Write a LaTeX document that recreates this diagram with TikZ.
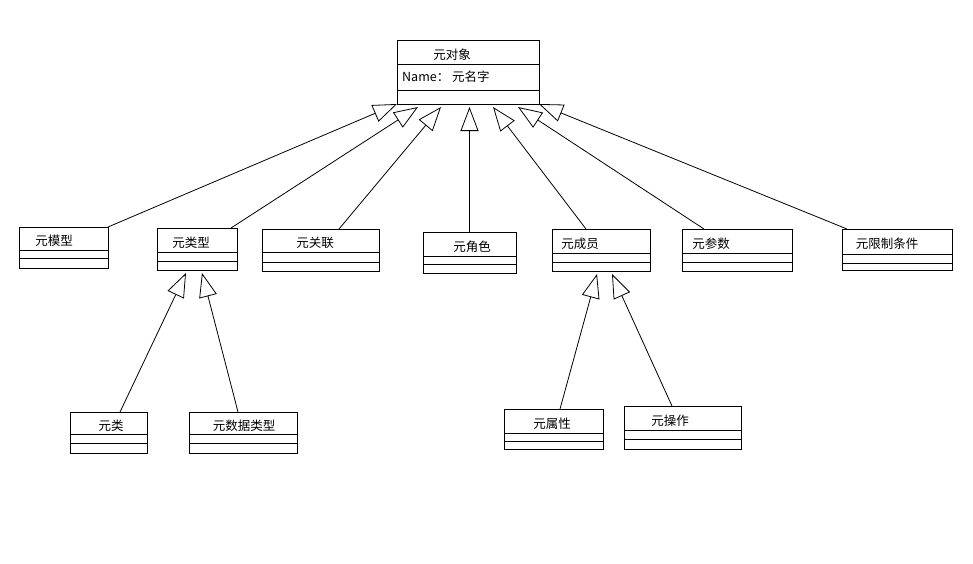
\documentclass[tikz,border=0pt]{standalone}
\usepackage{fontspec}
\newfontfamily\cjk{Noto Sans CJK SC}
\usetikzlibrary{arrows.meta}
\tikzset{
  classbox/.style={draw, line width=.8pt, inner sep=0pt, outer sep=0pt},
  classname/.style={font=\cjk\fontsize{12.5}{15}\selectfont, inner sep=0pt},
  inherit/.style={draw, line width=.8pt, -{Triangle[open, length=24pt, width=18pt]}}
}
\newcommand\metaclass[9]{%
  \node[classbox, minimum width={#4-#2}, minimum height={#5-#3}] (#1) at ({(#2+#4)/2},{(#3+#5)/2}) {};
  \draw[line width=.8pt] (#2,#6) -- (#4,#6) (#2,#7) -- (#4,#7);
  \node[classname] (#1-name) at (#8,{(#3+#6)/2+2.5}) {#9};
}
\begin{document}
\begin{tikzpicture}[x=1pt, y=-1pt]
                      \useasboundingbox (0,0) rectangle (973,563);
                      \metaclass{mobj}{397}{40}{539}{104}{64}{90}{452}{元对象}
                      \node[classname, anchor=west] (mobj-attr) at (402,77) {Name： 元名字};
                      \metaclass{mmodel}{19}{227}{108}{268}{250}{258}{54}{元模型}
                      \metaclass{mtype}{157}{228}{237}{270}{252}{261}{191}{元类型}
                      \metaclass{massoc}{262}{229}{379}{271}{252}{262}{315}{元关联}
                      \metaclass{mrole}{423}{232}{516}{273}{256}{264}{472}{元角色}
                      \metaclass{mmember}{552}{229}{650}{271}{253}{262}{580}{元成员}
                      \metaclass{mparam}{682}{229}{792}{271}{253}{262}{711}{元参数}
                      \metaclass{mconstr}{842}{229}{952}{270}{254}{263}{887}{元限制条件}
                      \metaclass{mclass}{70}{412}{147}{453}{434}{443}{111}{元类}
                      \metaclass{mdtype}{189}{412}{297}{453}{434}{443}{244}{元数据类型}
                      \metaclass{mattr}{504}{409}{603}{449}{433}{441}{552}{元属性}
                      \metaclass{mop}{624}{406}{741}{449}{430}{439}{670}{元操作}
                      \coordinate (rtip) at ([yshift=-3pt]mobj.south);
                      \draw[inherit] (mmodel.north east) -- (mobj.south west);
                      \draw[inherit] ([xshift=-6pt]mtype.north east) -- ([shift={(21pt,-3pt)}]mobj.south west);
                      \draw[inherit] ([xshift=77pt]massoc.north west) -- ([shift={(44pt,-3pt)}]mobj.south west);
                      \draw[inherit] (mrole.north) -- (mrole.north |- rtip);
                      \draw[inherit] ([xshift=34pt]mmember.north west) -- ([shift={(96pt,-3pt)}]mobj.south west);
                      \draw[inherit] ([xshift=22pt]mparam.north west) -- ([shift={(121pt,-3pt)}]mobj.south west);
                      \draw[inherit] ([xshift=5pt]mconstr.north west) -- (mobj.south east);
                      \draw[inherit] ([xshift=50pt]mclass.north west) -- ([shift={(29pt,-3pt)}]mtype.south west);
                      \draw[inherit] ([xshift=49pt]mdtype.north west) -- ([shift={(45pt,-3pt)}]mtype.south west);
                      \draw[inherit] ([xshift=56pt]mattr.north west) -- ([shift={(45pt,-3pt)}]mmember.south west);
                      \draw[inherit] ([xshift=48pt]mop.north west) -- ([shift={(60pt,-3pt)}]mmember.south west);
\end{tikzpicture}
\end{document}
